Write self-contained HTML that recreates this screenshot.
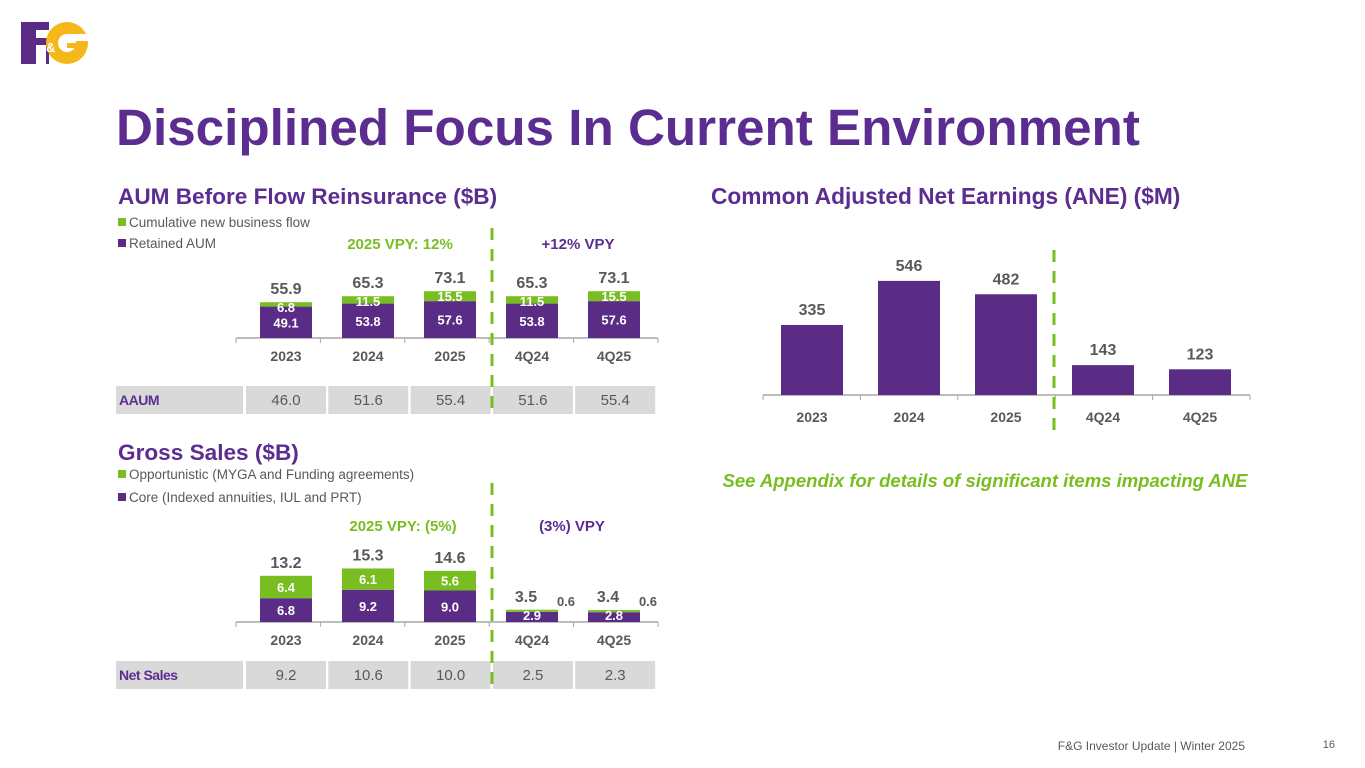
<!DOCTYPE html>
<html><head><meta charset="utf-8">
<style>
body{margin:0;width:1365px;height:768px;background:#fff;font-family:"Liberation Sans",Arial,sans-serif;overflow:hidden;position:relative}
.abs{position:absolute}
</style></head><body>
<svg class="abs" style="left:0;top:0" width="1365" height="768">
 <g>
  <rect x="21" y="22" width="28" height="42" fill="#5b2c86"/>
  <rect x="36" y="30" width="13" height="8" fill="#fff"/>
  <rect x="36" y="45" width="10" height="19" fill="#fff"/>
  <circle cx="67" cy="43" r="21" fill="#f5b71a"/>
  <rect x="67" y="34" width="22" height="7" fill="#fff"/>
  <circle cx="67" cy="43" r="9" fill="#fff"/>
  <rect x="67" y="43" width="14" height="5" fill="#f5b71a"/>
  <text x="46" y="52" font-family="Liberation Sans" font-weight="bold" font-size="13" fill="#fff">&amp;</text>
 </g>
 <text x="116" y="145" font-size="51.2" font-weight="bold" fill="#5c2d91">Disciplined Focus In Current Environment</text>
 <text x="118" y="204" font-size="22.6" font-weight="bold" fill="#5c2d91">AUM Before Flow Reinsurance ($B)</text>
 <text x="711" y="204" font-size="22.7" font-weight="bold" fill="#5c2d91">Common Adjusted Net Earnings (ANE) ($M)</text>
 <text x="118" y="460" font-size="22.6" font-weight="bold" fill="#5c2d91">Gross Sales ($B)</text>
 <g font-size="13.5" fill="#595959">
  <rect x="118" y="218" width="8" height="8" fill="#78be20"/>
  <text x="129" y="227">Cumulative new business flow</text>
  <rect x="118" y="239" width="8" height="8" fill="#5b2c86"/>
  <text x="129" y="248">Retained AUM</text>
  <rect x="118" y="470" width="8" height="8" fill="#78be20"/>
  <text x="129" y="479">Opportunistic (MYGA and Funding agreements)</text>
  <rect x="118" y="493" width="8" height="8" fill="#5b2c86"/>
  <text x="129" y="502">Core (Indexed annuities, IUL and PRT)</text>
 </g>
 <text x="400" y="249" font-size="15" font-weight="bold" fill="#78be20" text-anchor="middle">2025 VPY: 12%</text>
 <text x="578" y="249" font-size="15" font-weight="bold" fill="#5c2d91" text-anchor="middle">+12% VPY</text>
 <text x="403" y="531" font-size="15" font-weight="bold" fill="#78be20" text-anchor="middle">2025 VPY: (5%)</text>
 <text x="572" y="531" font-size="15" font-weight="bold" fill="#5c2d91" text-anchor="middle">(3%) VPY</text>
 <text x="985" y="487" font-size="18.5" font-weight="bold" font-style="italic" fill="#78be20" text-anchor="middle">See Appendix for details of significant items impacting ANE</text>
 <text x="1245" y="750" font-size="12" fill="#595959" text-anchor="end">F&amp;G Investor Update |  Winter 2025</text>
 <text x="1335" y="748" font-size="11" fill="#595959" text-anchor="end">16</text>
 <g id="charts"></g>
</svg>
<script>
const cats=["2023","2024","2025","4Q24","4Q25"];
const aumRetained=[49.1,53.8,57.6,53.8,57.6];
const aumFlow=[6.8,11.5,15.5,11.5,15.5];
const aumTotal=["55.9","65.3","73.1","65.3","73.1"];
const aaum=["46.0","51.6","55.4","51.6","55.4"];
const gsCore=[6.8,9.2,9.0,2.9,2.8];
const gsOpp=[6.4,6.1,5.6,0.6,0.6];
const gsTotal=["13.2","15.3","14.6","3.5","3.4"];
const netSales=["9.2","10.6","10.0","2.5","2.3"];
const ane=[335,546,482,143,123];

const NS="http://www.w3.org/2000/svg";
const g=document.getElementById('charts');
const P="#5b2c86",G="#78be20";
function mk(t,a,txt){const e=document.createElementNS(NS,t);for(const k in a)e.setAttribute(k,a[k]);if(txt!==undefined)e.textContent=txt;g.appendChild(e);return e;}

function stacked(base,scale,lo,hi,totals,cx0,step,bw,axisX0,axisX1,name,outside){
  const ln=mk('line',{x1:axisX0,x2:axisX1,y1:base,y2:base,stroke:'#a6a6a6','stroke-width':1.5});
  
  for(let i=0;i<=5;i++){const tx=axisX0+i*(axisX1-axisX0)/5;const t=mk('line',{x1:tx,x2:tx,y1:base,y2:base+5,stroke:'#a6a6a6'});}
  cats.forEach((c,i)=>{
    const cx=cx0+i*step;
    const h1=lo[i]*scale,h2=hi[i]*scale;
    const r1=mk('rect',{x:cx-bw/2,y:base-h1,width:bw,height:h1,fill:P});
    
    const r2=mk('rect',{x:cx-bw/2,y:base-h1-h2,width:bw,height:h2,fill:G});
    
    const ly=h1<16?base-2:base-h1/2+5;
    const l1=mk('text',{x:cx,y:ly,'font-size':13,'font-weight':'bold',fill:'#fff','text-anchor':'middle'},lo[i].toFixed(1));
    
    const small=outside&&h2<8;
    const l2=small?mk('text',{x:cx+bw/2+8,y:base-h1-h2-4,'font-size':13,'font-weight':'bold',fill:'#595959','text-anchor':'middle'},hi[i].toFixed(1))
      :mk('text',{x:cx,y:Math.max(base-h1-h2/2+5,base-h1-h2+10),'font-size':13,'font-weight':'bold',fill:'#fff','text-anchor':'middle'},hi[i].toFixed(1));
    
    const tt=mk('text',{x:small?cx-6:cx,y:base-h1-h2-8,'font-size':16,'font-weight':'bold',fill:'#595959','text-anchor':'middle'},totals[i]);
    
    const cl=mk('text',{x:cx,y:base+23,'font-size':14,'font-weight':'bold',fill:'#595959','text-anchor':'middle'},c);
    
  });
}
function table(y,label,vals,name){
  const r=mk('rect',{x:116,y:y,width:127,height:28,fill:'#d9d9d9'});
  const t=mk('text',{x:119,y:y+19,'font-size':14,'font-weight':'bold',fill:'#5c2d91','letter-spacing':-0.5},label);
  vals.forEach((v,i)=>{const x=246+i*82.3;
    const c=mk('rect',{x:x,y:y,width:80,height:28,fill:'#d9d9d9'});
    const tx=mk('text',{x:x+40,y:y+19,'font-size':15,fill:'#595959','text-anchor':'middle'},v);});
}
stacked(338,0.64,aumRetained,aumFlow,aumTotal,286,82,52,236,658,'aum',false);
table(386,'AAUM',aaum,'aaum');
stacked(622,3.5,gsCore,gsOpp,gsTotal,286,82,52,236,658,'gross-sales',true);
table(661,'Net Sales',netSales,'net-sales');

// ANE
const aBase=395,aScale=0.209;
const al=mk('line',{x1:763,x2:1250,y1:aBase,y2:aBase,stroke:'#a6a6a6','stroke-width':1.5});
for(let i=0;i<=5;i++){const tx=763+i*97.4;const t=mk('line',{x1:tx,x2:tx,y1:aBase,y2:aBase+5,stroke:'#a6a6a6'});}
cats.forEach((c,i)=>{const cx=812+i*97;const h=ane[i]*aScale;
  const r=mk('rect',{x:cx-31,y:aBase-h,width:62,height:h,fill:P});
  const v=mk('text',{x:cx,y:aBase-h-10,'font-size':16,'font-weight':'bold',fill:'#595959','text-anchor':'middle'},String(ane[i]));
  const cl=mk('text',{x:cx,y:aBase+27,'font-size':14,'font-weight':'bold',fill:'#595959','text-anchor':'middle'},c);
});
[[492,228,415],[492,483,690],[1054,250,438]].forEach(d=>{const l=mk('line',{x1:d[0],x2:d[0],y1:d[1],y2:d[2],stroke:G,'stroke-width':3,'stroke-dasharray':'12,9'});});
</script>
</body></html>
